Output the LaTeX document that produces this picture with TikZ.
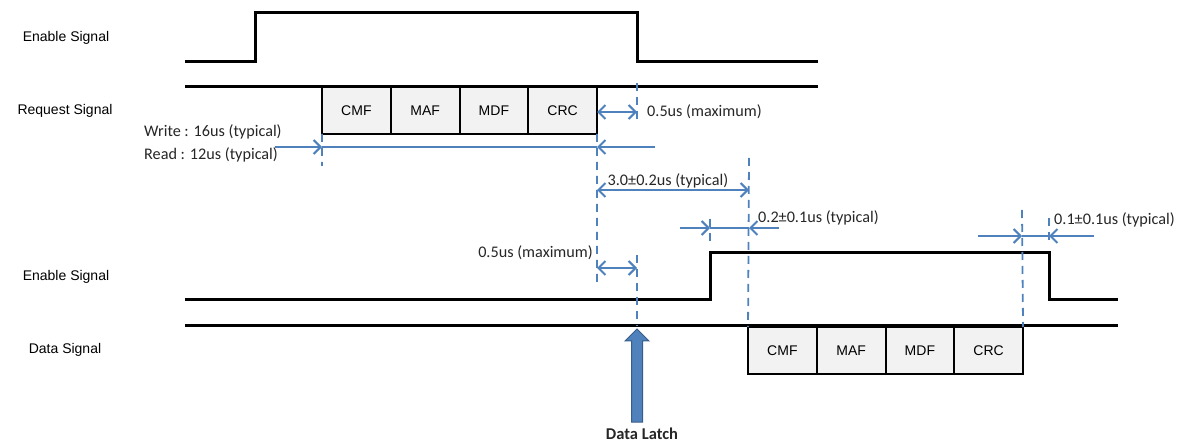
\documentclass[tikz,border=0pt]{standalone}
\usepackage{fontspec}
\setmainfont{Liberation Sans}
\newfontfamily\notefont{Carlito}
\usetikzlibrary{positioning}
\usetikzlibrary{arrows.meta}
\definecolor{dimblue}{HTML}{4F81BD}
\definecolor{latchedge}{HTML}{385D8A}
\definecolor{boxgray}{HTML}{F2F2F2}
\tikzset{
  wave/.style={line width=3pt, black},
  field/.style={draw, line width=2pt, fill=boxgray, minimum width=68.75pt, minimum height=47pt, inner sep=0pt, outer sep=0pt, font=\fontsize{14}{16}\selectfont},
  siglabel/.style={font=\fontsize{14}{16}\selectfont},
  guide/.style={dimblue, line width=1.8pt, dash pattern=on 8pt off 6pt},
  dim/.style={dimblue, line width=2pt},
  tip/.style={arrows={-Straight Barb[length=7pt,width=14pt,line width=2pt]}},
  bitip/.style={arrows={Straight Barb[length=7pt,width=14pt,line width=2pt]-Straight Barb[length=7pt,width=14pt,line width=2pt]}},
  note/.style={font=\notefont\fontsize{16.2}{18}\selectfont, text=black!85, inner sep=1pt}
}
\begin{document}
\begin{tikzpicture}[x=1pt, y=-1pt]
            \useasboundingbox (0,0) rectangle (1178,443);
            \node[siglabel] (enA) at (66,38) {Enable Signal};
            \node[siglabel] (req) at (65,111) {Request Signal};
            \node[siglabel] (enB) at (66,277) {Enable Signal};
            \node[siglabel] (dat) at (65,350) {Data Signal};

            \draw[wave] (185,62) -- (255,62) -- (255,13) -- (637,13) -- (637,62) -- (818,62);
            \draw[wave] (185,87) -- (818,87);
            \draw[wave] (185,300) -- (710,300) -- (710,253) -- (1049,253) -- (1049,300) -- (1118,300);
            \draw[wave] (185,326) -- (1118,326);

            \node[field] (cmfA) at (356.4,110.5) {CMF};
            \node[field, right=0pt of cmfA] (mafA) {MAF};
            \node[field, right=0pt of mafA] (mdfA) {MDF};
            \node[field, right=0pt of mdfA] (crcA) {CRC};
            \node[field] (cmfB) at (782.4,350.5) {CMF};
            \node[field, right=0pt of cmfB] (mafB) {MAF};
            \node[field, right=0pt of mafB] (mdfB) {MDF};
            \node[field, right=0pt of mdfB] (crcB) {CRC};

            \coordinate (reqin) at (275,147);
            \coordinate (reqstart) at (322,147);
            \coordinate (reqend) at (597,147);
            \coordinate (reqout) at (655,147);
            \coordinate (maxA1) at (597,112);
            \coordinate (maxA2) at (637,112);
            \coordinate (gap1) at (597,190);
            \coordinate (gap2) at (749,190);
            \coordinate (riseL) at (680,228);
            \coordinate (rise1) at (710,228);
            \coordinate (rise2) at (749,228);
            \coordinate (riseR) at (779,228);
            \coordinate (maxB1) at (597,268);
            \coordinate (maxB2) at (637,268);
            \coordinate (fallL) at (978,236);
            \coordinate (fall1) at (1022,236);
            \coordinate (fall2) at (1049,236);
            \coordinate (fallR) at (1094,236);

            \draw[guide] (cmfA.south west) -- (322,166);
            \draw[guide] (crcA.south east) -- (597,282);
            \draw[guide] (637,83) -- (637,122);
            \draw[guide] (637,255) -- (637,326);
            \draw[guide] (749,158) -- (cmfB.north west);
            \draw[guide] (710,219) -- (710,243);
            \draw[guide] (1022,210) -- (crcB.north east);
            \draw[guide] (1049,218) -- (1049,245);

            \draw[dim, tip] (reqin) -- (reqstart);
            \draw[dim] (reqstart) -- (reqend);
            \draw[dim, tip] (reqout) -- (reqend);
            \draw[dim, bitip] (maxA1) -- (maxA2);
            \draw[dim, bitip] (gap1) -- (gap2);
            \draw[dim, tip] (riseL) -- (rise1);
            \draw[dim] (rise1) -- (rise2);
            \draw[dim, tip] (riseR) -- (rise2);
            \draw[dim, bitip] (maxB1) -- (maxB2);
            \draw[dim, tip] (fallL) -- (fall1);
            \draw[dim] (fall1) -- (fall2);
            \draw[dim, tip] (fallR) -- (fall2);

            \node[note, anchor=west] (wrt) at (143,132) {Write : 16us (typical)};
            \node[note, anchor=west] (rd) at (143,155) {Read : 12us (typical)};
            \node[note, anchor=west] (maxAtxt) at (646,112) {0.5us (maximum)};
            \node[note] (gaptxt) at (668,181) {3.0±0.2us (typical)};
            \node[note, anchor=west] (risetxt) at (757,218) {0.2±0.1us (typical)};
            \node[note, anchor=east] (maxBtxt) at (594,253) {0.5us (maximum)};
            \node[note, anchor=west] (falltxt) at (1053,220) {0.1±0.1us (typical)};
            \node[note, font=\notefont\bfseries\fontsize{16.5}{18}\selectfont] (latch) at (642,434) {Data Latch};

            \filldraw[fill=dimblue, draw=latchedge, line width=1pt] (637,329) -- (649,341) -- (642.5,341) -- (642.5,422) -- (631.5,422) -- (631.5,341) -- (625,341) -- cycle;
        \end{tikzpicture}
\end{document}
